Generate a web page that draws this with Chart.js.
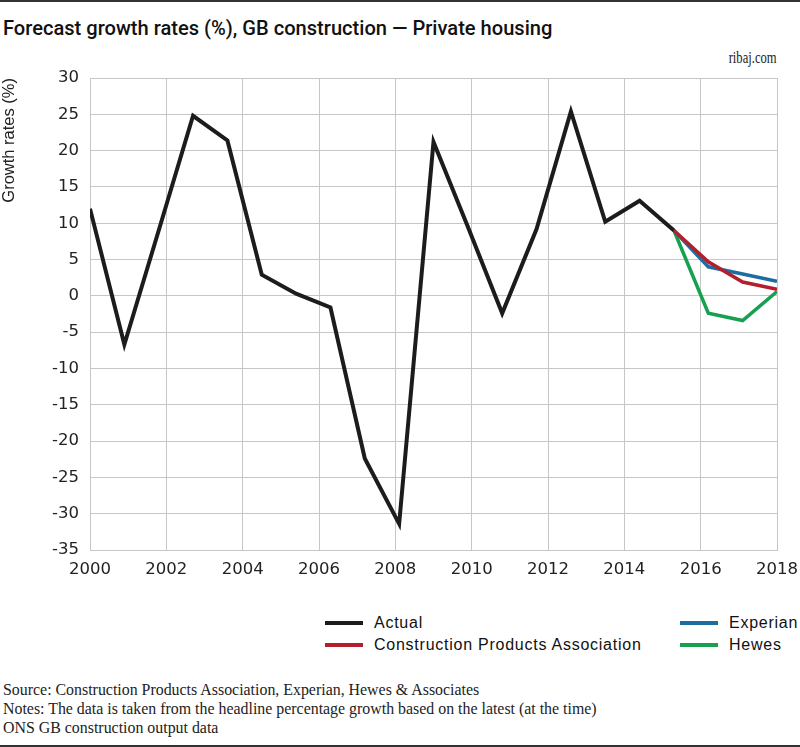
<!DOCTYPE html>
<html>
<head>
<meta charset="utf-8">
<script src="https://cdn.jsdelivr.net/npm/chart.js@4/dist/chart.umd.min.js"></script>
<style>
  body { margin: 0; background: #fff; }
  #page { position: relative; width: 800px; height: 747px; overflow: hidden; background: #fff;
          border-top: 2px solid #333; box-sizing: border-box; }
  #title { position: absolute; left: 3px; top: 14px; font: 500 20.1px Roboto, "Liberation Sans", sans-serif; color: #111; }
  #site { position: absolute; right: 23px; top: 45px; font: 17.5px "Liberation Serif", serif; color: #222; transform: scaleX(0.72); transform-origin: right center; }
  #chartBox { position: absolute; left: 0; top: 60px; width: 800px; height: 540px; }
  #legend { position: absolute; left: 0; top: 610px; width: 800px; height: 50px; font: 16px "Liberation Sans", Arial, sans-serif; letter-spacing: 0.75px; color: #111; }
  .item { position: absolute; display: flex; align-items: center; height: 20px; }
  .swatch { width: 38px; height: 4px; margin-right: 11px; }
  #notes { position: absolute; left: 3px; top: 678px; font: 15.9px "Liberation Serif", serif; color: #222; line-height: 19px; }
  #bottomLine { position: absolute; left: 0; bottom: 0; width: 800px; height: 2px; background: #333; }
</style>
</head>
<body>
<div id="page">
  <div id="title">Forecast growth rates (%), GB construction — Private housing</div>
  <div id="site">ribaj.com</div>
  <div id="chartBox"><canvas id="growthChart" width="800" height="540"></canvas></div>
  <div id="legend"></div>
  <div id="notes">
    Source: Construction Products Association, Experian, Hewes &amp; Associates<br>
    Notes: The data is taken from the headline percentage growth based on the latest (at the time)<br>
    ONS GB construction output data
  </div>
  <div id="bottomLine"></div>
</div>
<script>
// 21 evenly spaced readings from 2000 to 2018
const xStart = 2000;
const xEnd = 2018;
const actual = [12, -6.7, 9, 24.8, 21.4, 2.9, 0.3, -1.6, -22.4, -31.4, 21.2, 9.5, -2.4, 9.2, 25.4, 10.2, 13.1, 9, null, null, null];
const cpa = [null, null, null, null, null, null, null, null, null, null, null, null, null, null, null, null, null, 9, 4.7, 1.9, 0.9];
const experian = [null, null, null, null, null, null, null, null, null, null, null, null, null, null, null, null, null, 9, 4.0, 3.0, 2.0];
const hewes = [null, null, null, null, null, null, null, null, null, null, null, null, null, null, null, null, null, 9, -2.4, -3.4, 0.6];
const xTicks = [2000, 2002, 2004, 2006, 2008, 2010, 2012, 2014, 2016, 2018];
const yTicks = [30, 25, 20, 15, 10, 5, 0, -5, -10, -15, -20, -25, -30, -35];

const seriesNames = ['Actual', 'Construction Products Association', 'Experian', 'Hewes'];
const seriesColors = ['#1c1c1c', '#b31f2c', '#1b6ea3', '#17a050'];

// 把数组转换成 {x, y} 点
function toPoints(values) {
  const step = (xEnd - xStart) / (values.length - 1);
  return values.map((v, i) => ({ x: xStart + i * step, y: v }));
}

const datasets = [actual, cpa, experian, hewes].map((values, i) => ({
  label: seriesNames[i],
  data: toPoints(values),
  borderColor: seriesColors[i],
  backgroundColor: seriesColors[i],
  borderWidth: i === 0 ? 4 : 3.5,
  borderJoinStyle: 'miter',
  pointRadius: 0,
  tension: 0,
  spanGaps: false
}));

const gridColor = '#c6c6c6';
const tickFont = { family: '"DejaVu Sans", sans-serif', size: 16.5 };

new Chart(document.getElementById('growthChart'), {
  type: 'line',
  data: { datasets },
  options: {
    responsive: false,
    animation: false,
    layout: { padding: { left: 0, right: 23, top: 16, bottom: 12 } },
    plugins: { legend: { display: false }, tooltip: { enabled: false } },
    scales: {
      x: {
        type: 'linear',
        min: xStart,
        max: xEnd,
        afterBuildTicks: scale => { scale.ticks = xTicks.map(v => ({ value: v })); },
        afterFit: scale => {
          scale.height = 40;
          scale.paddingLeft = 0;
          scale.paddingRight = 0;
        },
        grid: { color: gridColor, lineWidth: 1, drawTicks: false },
        border: { color: gridColor },
        ticks: { color: '#222', font: tickFont, padding: 10, maxRotation: 0, autoSkip: false, callback: v => String(v) }
      },
      y: {
        min: -35,
        max: 30,
        afterBuildTicks: scale => { scale.ticks = yTicks.map(v => ({ value: v })); },
        afterFit: scale => {
          scale.width = 90;
          scale.paddingTop = 0;
          scale.paddingBottom = 0;
        },
        grid: { color: gridColor, lineWidth: 1, drawTicks: false },
        border: { color: gridColor },
        ticks: { color: '#222', font: tickFont, padding: 11, callback: v => String(v) },
        title: {
          display: true,
          text: 'Growth rates (%)',
          align: 'end',
          color: '#222',
          font: { family: '"Liberation Sans", Arial, sans-serif', size: 16.5 },
          padding: { top: 0, bottom: 0 }
        }
      }
    }
  }
});

// 图例：两列，每列两项
const legendBox = document.getElementById('legend');
const legendSpots = [[325, 1], [325, 23], [680, 1], [680, 23]];
seriesNames.forEach((name, i) => {
  const item = document.createElement('div');
  item.className = 'item';
  item.style.left = legendSpots[i][0] + 'px';
  item.style.top = legendSpots[i][1] + 'px';
  item.innerHTML = `<span class="swatch" style="background:${seriesColors[i]}"></span><span>${name}</span>`;
  legendBox.appendChild(item);
});
</script>
</body>
</html>
